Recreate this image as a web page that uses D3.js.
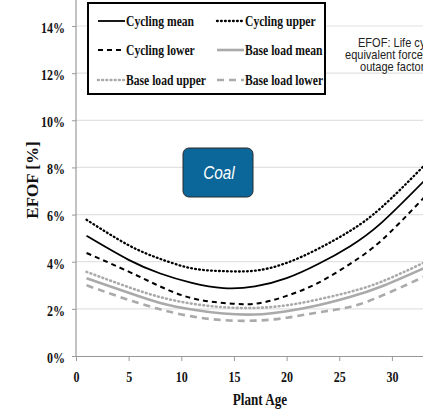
<!DOCTYPE html>
<html lang="en">
<head>
    <meta charset="UTF-8">
    <title>EFOF vs Plant Age</title>
    <script src="https://d3js.org/d3.v7.min.js"></script>
    <style type="text/css">
        body { margin: 0; background: #fff; }
        svg { display: block; }
        .serif { font-family: 'Liberation Serif', 'Times New Roman', serif; font-weight: bold; fill: #111; }
    </style>
</head>
<body>
    <div id="chart"></div>
<script>
    // values (EFOF in %)
    var ages = [1, 5, 8, 11, 14, 17, 20, 23, 26, 29, 33];
    var cyclingMean  = [5.1, 4.08, 3.5, 3.1, 2.88, 2.95, 3.3, 3.9, 4.65, 5.65, 7.4];
    var cyclingUpper = [5.78, 4.7, 4.12, 3.72, 3.6, 3.62, 3.95, 4.55, 5.3, 6.3, 8.05];
    var cyclingLower = [4.37, 3.58, 2.95, 2.45, 2.25, 2.22, 2.55, 3.1, 3.9, 4.9, 6.7];
    var baseMean  = [3.3, 2.68, 2.25, 1.97, 1.8, 1.76, 1.9, 2.15, 2.5, 2.95, 3.72];
    var baseUpper = [3.57, 2.92, 2.5, 2.22, 2.07, 2.04, 2.15, 2.4, 2.72, 3.15, 3.95];
    var baseLower = [3.0, 2.38, 1.98, 1.68, 1.52, 1.5, 1.62, 1.85, 2.08, 2.55, 3.35];
    var xTicks = [0, 5, 10, 15, 20, 25, 30];
    var yTicks = [0, 2, 4, 6, 8, 10, 12, 14];
    var noteLines = ["EFOF: Life cycle", "equivalent forced", "outage factor"];

    var W = 423, H = 414;
    var gray = "#aaaaaa";

    var series = [
        { name: "Cycling mean", values: cyclingMean, color: "#000", width: 1.8, dash: null },
        { name: "Cycling upper", values: cyclingUpper, color: "#000", width: 2.3, dash: "0.8,3.2", cap: "round" },
        { name: "Cycling lower", values: cyclingLower, color: "#000", width: 2, dash: "5,4" },
        { name: "Base load mean", values: baseMean, color: gray, width: 2.6, dash: null },
        { name: "Base load upper", values: baseUpper, color: gray, width: 2.6, dash: "0.8,3.4", cap: "round" },
        { name: "Base load lower", values: baseLower, color: gray, width: 2.6, dash: "7,5" }
    ];

    var svg = d3.select("#chart").append("svg")
        .attr("width", W)
        .attr("height", H);

    var x = d3.scaleLinear().domain([0, 35]).range([76, 76 + 35 * 10.53]);
    var y = d3.scaleLinear().domain([0, 14]).range([356, 26]);

    // gridlines
    svg.append("g")
        .selectAll("line")
        .data(yTicks.filter(function (d) { return d > 0; }))
        .enter().append("line")
        .attr("x1", x(0)).attr("x2", W)
        .attr("y1", function (d) { return y(d); })
        .attr("y2", function (d) { return y(d); })
        .attr("stroke", "#e2e2e2")
        .attr("stroke-width", 1.2);

    // y axis
    var yAxis = svg.append("g")
        .attr("transform", "translate(" + x(0) + ",0)")
        .call(d3.axisLeft(y).tickValues(yTicks).tickSize(4)
            .tickFormat(function (d) { return d + "%"; }));
    yAxis.select(".domain").remove();
    yAxis.selectAll(".tick line").attr("stroke", "#999");
    yAxis.selectAll("text")
        .attr("class", "serif")
        .attr("font-size", 15)
        .attr("x", -11 / 0.8)
        .attr("dy", "0.42em")
        .attr("transform", "scale(0.8,1)");
    svg.append("line")
        .attr("x1", x(0)).attr("x2", x(0))
        .attr("y1", 0).attr("y2", y(0))
        .attr("stroke", "#999").attr("stroke-width", 1.2);

    // x axis
    var xAxis = svg.append("g")
        .attr("transform", "translate(0," + y(0) + ")")
        .call(d3.axisBottom(x).tickValues(xTicks).tickSize(5).tickSizeOuter(0));
    xAxis.select(".domain").attr("stroke", "#999").attr("stroke-width", 1.2);
    xAxis.selectAll(".tick line").attr("stroke", "#999");
    xAxis.selectAll("text")
        .attr("class", "serif")
        .attr("font-size", 15)
        .attr("y", 26)
        .attr("dy", 0)
        .attr("transform", "scale(0.8,1)");

    // axis titles
    svg.append("text")
        .attr("class", "serif")
        .attr("font-size", 16)
        .attr("text-anchor", "middle")
        .attr("transform", "translate(260,405) scale(0.82,1)")
        .text("Plant Age");

    svg.append("text")
        .attr("class", "serif")
        .attr("font-size", 17)
        .attr("text-anchor", "middle")
        .attr("transform", "translate(38,180) rotate(-90)")
        .text("EFOF [%]");

    // curves
    var line = d3.line()
        .x(function (d) { return x(d[0]); })
        .y(function (d) { return y(d[1]); })
        .curve(d3.curveNatural);

    svg.append("g")
        .selectAll("path")
        .data(series.slice().reverse())
        .enter().append("path")
        .attr("d", function (s) { return line(ages.map(function (a, i) { return [a, s.values[i]]; })); })
        .attr("fill", "none")
        .attr("stroke", function (s) { return s.color; })
        .attr("stroke-width", function (s) { return s.width; })
        .attr("stroke-dasharray", function (s) { return s.dash; })
        .attr("stroke-linecap", function (s) { return s.cap || "butt"; });

    // legend
    var legend = svg.append("g");
    legend.append("rect")
        .attr("x", 88).attr("y", 3)
        .attr("width", 237).attr("height", 91)
        .attr("fill", "#fff")
        .attr("stroke", "#000")
        .attr("stroke-width", 2);

    // two columns, three rows
    var slots = [[98, 21], [217, 21], [98, 50], [217, 50], [98, 80], [217, 80]];
    var item = legend.selectAll(".item")
        .data(series)
        .enter().append("g")
        .attr("class", "item")
        .attr("transform", function (s, i) { return "translate(" + slots[i][0] + "," + slots[i][1] + ")"; });
    item.append("line")
        .attr("x1", 0).attr("x2", 27)
        .attr("stroke", function (s) { return s.color; })
        .attr("stroke-width", function (s) { return s.width; })
        .attr("stroke-dasharray", function (s) { return s.dash; })
        .attr("stroke-linecap", function (s) { return s.cap || "butt"; });
    item.append("text")
        .attr("class", "serif")
        .attr("font-size", 15.5)
        .attr("transform", "translate(28,5) scale(0.75,1)")
        .text(function (s) { return s.name; });

    // Coal label box
    svg.append("rect")
        .attr("x", 183).attr("y", 148)
        .attr("width", 70).attr("height", 49)
        .attr("rx", 6)
        .attr("fill", "#0b6699")
        .attr("stroke", "#2b2b2b")
        .attr("stroke-width", 1);
    svg.append("text")
        .attr("text-anchor", "middle")
        .attr("transform", "translate(219,179) scale(0.85,1)")
        .attr("font-family", "'Liberation Sans', Arial, sans-serif")
        .attr("font-style", "italic")
        .attr("font-size", 18)
        .attr("fill", "#fff")
        .text("Coal");

    // note on the right (runs past the right edge, as in the source image)
    svg.append("g")
        .selectAll("text")
        .data(noteLines)
        .enter().append("text")
        .attr("transform", function (d, i) {
            return "translate(" + [358, 345, 360][i] + "," + (47 + i * 12) + ") scale(0.92,1)";
        })
        .attr("font-family", "'Liberation Sans', Arial, sans-serif")
        .attr("font-size", 12)
        .attr("fill", "#222")
        .text(function (d) { return d; });
</script>
</body>
</html>
